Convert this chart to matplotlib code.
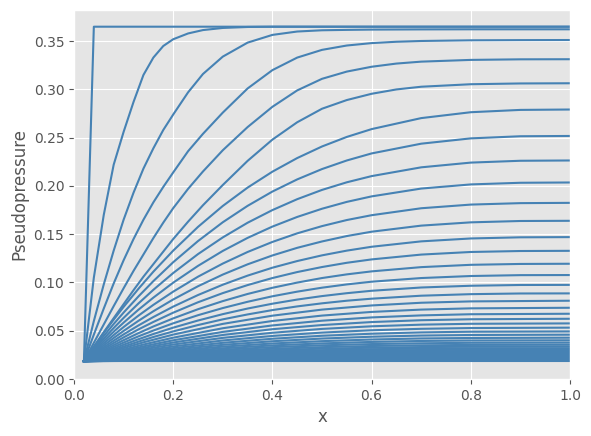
import matplotlib
matplotlib.use("Agg")
import matplotlib.pyplot as plt

plt.style.use("ggplot")

LINE_COLOR = "#4682b4"

# first profiles (steep fronts moving out from the well)
x_early = [0.02, 0.04, 0.06, 0.08, 0.10, 0.12, 0.14, 0.16, 0.18, 0.20, 0.23, 0.26,
           0.30, 0.35, 0.40, 0.45, 0.50, 0.55, 0.60, 0.65, 0.70, 0.80, 0.90, 1.00]
early_curves = [
    [0.0185, 0.365, 0.365, 0.365, 0.365, 0.365, 0.365, 0.365, 0.365, 0.365, 0.365, 0.365,
     0.365, 0.365, 0.365, 0.365, 0.365, 0.365, 0.365, 0.365, 0.365, 0.365, 0.365, 0.365],
    [0.0185, 0.105, 0.170, 0.222, 0.256, 0.287, 0.315, 0.333, 0.345, 0.352, 0.358, 0.3615,
     0.3637, 0.3647, 0.365, 0.365, 0.365, 0.365, 0.365, 0.365, 0.365, 0.365, 0.365, 0.365],
    [0.0185, 0.060, 0.098, 0.133, 0.165, 0.193, 0.218, 0.239, 0.258, 0.274, 0.297, 0.316,
     0.334, 0.3485, 0.3565, 0.3600, 0.3613, 0.3617, 0.3620, 0.3621, 0.3622, 0.3623, 0.3623, 0.3623],
    [0.0185, 0.046, 0.073, 0.099, 0.123, 0.145, 0.165, 0.183, 0.199, 0.214, 0.236, 0.254,
     0.276, 0.301, 0.320, 0.333, 0.341, 0.3455, 0.3480, 0.3494, 0.3502, 0.3509, 0.3511, 0.3512],
    [0.0185, 0.0375, 0.0565, 0.0755, 0.094, 0.112, 0.129, 0.146, 0.162, 0.177, 0.197, 0.215,
     0.237, 0.261, 0.282, 0.299, 0.311, 0.3185, 0.3235, 0.3268, 0.3288, 0.3306, 0.3312, 0.3313],
    [0.0185, 0.0335, 0.0485, 0.063, 0.0775, 0.092, 0.106, 0.119, 0.132, 0.145, 0.163, 0.180,
     0.201, 0.226, 0.248, 0.266, 0.280, 0.2890, 0.2955, 0.3000, 0.3028, 0.3054, 0.3062, 0.3064],
]

# middle profiles, drained towards the outer boundary
x_mid = [0.02, 0.04, 0.06, 0.08, 0.10, 0.13, 0.16, 0.20, 0.25, 0.30,
         0.35, 0.40, 0.45, 0.50, 0.55, 0.60, 0.70, 0.80, 0.90, 1.00]
mid_curves = [
    [0.0185, 0.0334, 0.0477, 0.0615, 0.0747, 0.0935, 0.1112, 0.1330, 0.1576, 0.1793,
     0.1983, 0.2148, 0.2289, 0.2409, 0.2508, 0.2589, 0.2703, 0.2764, 0.2788, 0.2792],
    [0.0185, 0.0318, 0.0446, 0.0570, 0.0688, 0.0856, 0.1014, 0.1210, 0.1429, 0.1624,
     0.1794, 0.1942, 0.2068, 0.2175, 0.2264, 0.2337, 0.2438, 0.2493, 0.2515, 0.2518],
    [0.0185, 0.0304, 0.0418, 0.0528, 0.0633, 0.0783, 0.0924, 0.1098, 0.1294, 0.1467,
     0.1619, 0.1750, 0.1863, 0.1959, 0.2038, 0.2102, 0.2193, 0.2242, 0.2261, 0.2264],
    [0.0185, 0.0291, 0.0392, 0.0490, 0.0584, 0.0718, 0.0843, 0.0998, 0.1172, 0.1327,
     0.1462, 0.1579, 0.1679, 0.1764, 0.1835, 0.1892, 0.1973, 0.2016, 0.2033, 0.2036],
    [0.0185, 0.0279, 0.0369, 0.0455, 0.0538, 0.0657, 0.0768, 0.0905, 0.1060, 0.1196,
     0.1316, 0.1420, 0.1509, 0.1584, 0.1647, 0.1697, 0.1769, 0.1807, 0.1822, 0.1825],
    [0.0185, 0.0268, 0.0348, 0.0425, 0.0498, 0.0603, 0.0702, 0.0824, 0.0961, 0.1082,
     0.1188, 0.1280, 0.1359, 0.1425, 0.1481, 0.1526, 0.1589, 0.1623, 0.1637, 0.1639],
    [0.0185, 0.0258, 0.0329, 0.0397, 0.0462, 0.0555, 0.0642, 0.0750, 0.0870, 0.0977,
     0.1071, 0.1153, 0.1222, 0.1281, 0.1330, 0.1370, 0.1426, 0.1456, 0.1468, 0.1470],
    [0.0185, 0.0250, 0.0313, 0.0373, 0.0431, 0.0514, 0.0591, 0.0687, 0.0795, 0.0890,
     0.0973, 0.1046, 0.1108, 0.1160, 0.1204, 0.1239, 0.1289, 0.1316, 0.1326, 0.1328],
    [0.0185, 0.0243, 0.0298, 0.0351, 0.0402, 0.0475, 0.0544, 0.0628, 0.0723, 0.0807,
     0.0881, 0.0945, 0.0999, 0.1046, 0.1084, 0.1115, 0.1159, 0.1183, 0.1192, 0.1194],
    [0.0185, 0.0236, 0.0285, 0.0332, 0.0377, 0.0442, 0.0502, 0.0577, 0.0661, 0.0735,
     0.0800, 0.0857, 0.0905, 0.0946, 0.0980, 0.1008, 0.1046, 0.1067, 0.1076, 0.1077],
    [0.0185, 0.0230, 0.0274, 0.0315, 0.0355, 0.0412, 0.0466, 0.0532, 0.0606, 0.0672,
     0.0730, 0.0780, 0.0823, 0.0859, 0.0889, 0.0914, 0.0948, 0.0966, 0.0974, 0.0975],
    [0.0185, 0.0225, 0.0264, 0.0301, 0.0336, 0.0387, 0.0435, 0.0493, 0.0559, 0.0618,
     0.0669, 0.0714, 0.0752, 0.0784, 0.0811, 0.0832, 0.0863, 0.0879, 0.0886, 0.0887],
]

# late profiles, close to the well pressure
x_late = [0.02, 0.06, 0.10, 0.14, 0.20, 0.30, 0.40, 0.50, 0.60, 0.70, 0.80, 1.00]
late_curves = [
    [0.0185, 0.0255, 0.0320, 0.0380, 0.0460, 0.0571, 0.0656, 0.0719, 0.0762, 0.0790, 0.0804, 0.0811],
    [0.0185, 0.0247, 0.0304, 0.0357, 0.0428, 0.0526, 0.0601, 0.0657, 0.0695, 0.0719, 0.0732, 0.0738],
    [0.0185, 0.0240, 0.0291, 0.0338, 0.0401, 0.0488, 0.0555, 0.0604, 0.0638, 0.0659, 0.0671, 0.0676],
    [0.0185, 0.0234, 0.0279, 0.0322, 0.0378, 0.0456, 0.0516, 0.0559, 0.0590, 0.0609, 0.0619, 0.0624],
    [0.0185, 0.0229, 0.0269, 0.0307, 0.0357, 0.0426, 0.0479, 0.0519, 0.0546, 0.0563, 0.0572, 0.0576],
    [0.0185, 0.0224, 0.0260, 0.0293, 0.0337, 0.0399, 0.0446, 0.0481, 0.0505, 0.0520, 0.0528, 0.0532],
    [0.0185, 0.0219, 0.0251, 0.0281, 0.0320, 0.0375, 0.0417, 0.0448, 0.0469, 0.0483, 0.0490, 0.0493],
    [0.0185, 0.0216, 0.0244, 0.0270, 0.0305, 0.0354, 0.0391, 0.0419, 0.0438, 0.0450, 0.0456, 0.0459],
    [0.0185, 0.0212, 0.0237, 0.0261, 0.0292, 0.0335, 0.0368, 0.0392, 0.0409, 0.0420, 0.0425, 0.0428],
    [0.0185, 0.0209, 0.0231, 0.0252, 0.0280, 0.0318, 0.0348, 0.0369, 0.0384, 0.0394, 0.0399, 0.0401],
    [0.0185, 0.0207, 0.0226, 0.0245, 0.0269, 0.0303, 0.0330, 0.0349, 0.0362, 0.0370, 0.0375, 0.0377],
    [0.0185, 0.0204, 0.0222, 0.0238, 0.0260, 0.0290, 0.0313, 0.0330, 0.0342, 0.0349, 0.0353, 0.0355],
    [0.0185, 0.0202, 0.0217, 0.0232, 0.0251, 0.0278, 0.0299, 0.0314, 0.0324, 0.0331, 0.0334, 0.0336],
    [0.0185, 0.0200, 0.0214, 0.0227, 0.0244, 0.0268, 0.0286, 0.0299, 0.0309, 0.0314, 0.0318, 0.0319],
    [0.0185, 0.0198, 0.0211, 0.0222, 0.0237, 0.0258, 0.0275, 0.0287, 0.0295, 0.0300, 0.0303, 0.0304],
    [0.0185, 0.0197, 0.0208, 0.0218, 0.0232, 0.0250, 0.0265, 0.0275, 0.0283, 0.0287, 0.0290, 0.0291],
    [0.0185, 0.0196, 0.0205, 0.0214, 0.0226, 0.0243, 0.0256, 0.0265, 0.0272, 0.0276, 0.0278, 0.0279],
    [0.0185, 0.0194, 0.0203, 0.0211, 0.0221, 0.0236, 0.0248, 0.0256, 0.0262, 0.0265, 0.0267, 0.0268],
    [0.0185, 0.0193, 0.0201, 0.0208, 0.0217, 0.0231, 0.0241, 0.0248, 0.0253, 0.0256, 0.0258, 0.0259],
    [0.0185, 0.0192, 0.0199, 0.0206, 0.0214, 0.0226, 0.0235, 0.0241, 0.0246, 0.0249, 0.0250, 0.0251],
    [0.0185, 0.0191, 0.0197, 0.0203, 0.0210, 0.0221, 0.0229, 0.0234, 0.0238, 0.0241, 0.0242, 0.0243],
    [0.0185, 0.0191, 0.0196, 0.0201, 0.0208, 0.0217, 0.0224, 0.0229, 0.0233, 0.0235, 0.0236, 0.0237],
    [0.0185, 0.0190, 0.0195, 0.0199, 0.0205, 0.0213, 0.0220, 0.0224, 0.0227, 0.0229, 0.0230, 0.0231],
    [0.0185, 0.0190, 0.0194, 0.0198, 0.0203, 0.0210, 0.0216, 0.0220, 0.0223, 0.0225, 0.0226, 0.0226],
    [0.0185, 0.0189, 0.0193, 0.0196, 0.0201, 0.0207, 0.0212, 0.0216, 0.0218, 0.0220, 0.0221, 0.0221],
    [0.0185, 0.0189, 0.0192, 0.0195, 0.0199, 0.0205, 0.0209, 0.0212, 0.0215, 0.0216, 0.0217, 0.0217],
    [0.0185, 0.0188, 0.0191, 0.0194, 0.0198, 0.0203, 0.0207, 0.0210, 0.0212, 0.0213, 0.0214, 0.0214],
    [0.0185, 0.0188, 0.0191, 0.0193, 0.0196, 0.0201, 0.0205, 0.0207, 0.0209, 0.0210, 0.0211, 0.0211],
    [0.0185, 0.0188, 0.0190, 0.0192, 0.0195, 0.0199, 0.0202, 0.0205, 0.0206, 0.0207, 0.0208, 0.0208],
    [0.0185, 0.0187, 0.0189, 0.0191, 0.0194, 0.0197, 0.0200, 0.0202, 0.0203, 0.0204, 0.0205, 0.0205],
    [0.0185, 0.0187, 0.0189, 0.0191, 0.0193, 0.0196, 0.0199, 0.0200, 0.0202, 0.0202, 0.0203, 0.0203],
    [0.0185, 0.0187, 0.0188, 0.0190, 0.0192, 0.0195, 0.0197, 0.0199, 0.0200, 0.0200, 0.0201, 0.0201],
    [0.0185, 0.0187, 0.0188, 0.0189, 0.0191, 0.0194, 0.0196, 0.0197, 0.0198, 0.0199, 0.0199, 0.0199],
    [0.0185, 0.0186, 0.0188, 0.0189, 0.0190, 0.0192, 0.0194, 0.0195, 0.0196, 0.0197, 0.0197, 0.0197],
    [0.0185, 0.0186, 0.0187, 0.0188, 0.0189, 0.0191, 0.0193, 0.0194, 0.0194, 0.0195, 0.0195, 0.0195],
    [0.0185, 0.0185, 0.0185, 0.0185, 0.0185, 0.0185, 0.0185, 0.0185, 0.0185, 0.0185, 0.0185, 0.0185],
]

fig = plt.figure(figsize=(5.91, 4.36), dpi=100)
ax = fig.add_axes([74 / 591, 57 / 436, 496 / 591, 369 / 436])

for ys in early_curves:
    ax.plot(x_early, ys, color=LINE_COLOR)
for ys in mid_curves:
    ax.plot(x_mid, ys, color=LINE_COLOR)
for ys in late_curves:
    ax.plot(x_late, ys, color=LINE_COLOR)

ax.set_xlim(0, 1.0)
ax.set_ylim(0, 0.3823)
ax.set_xlabel("x")
ax.set_ylabel("Pseudopressure")

fig.savefig("out.png", dpi=100)
